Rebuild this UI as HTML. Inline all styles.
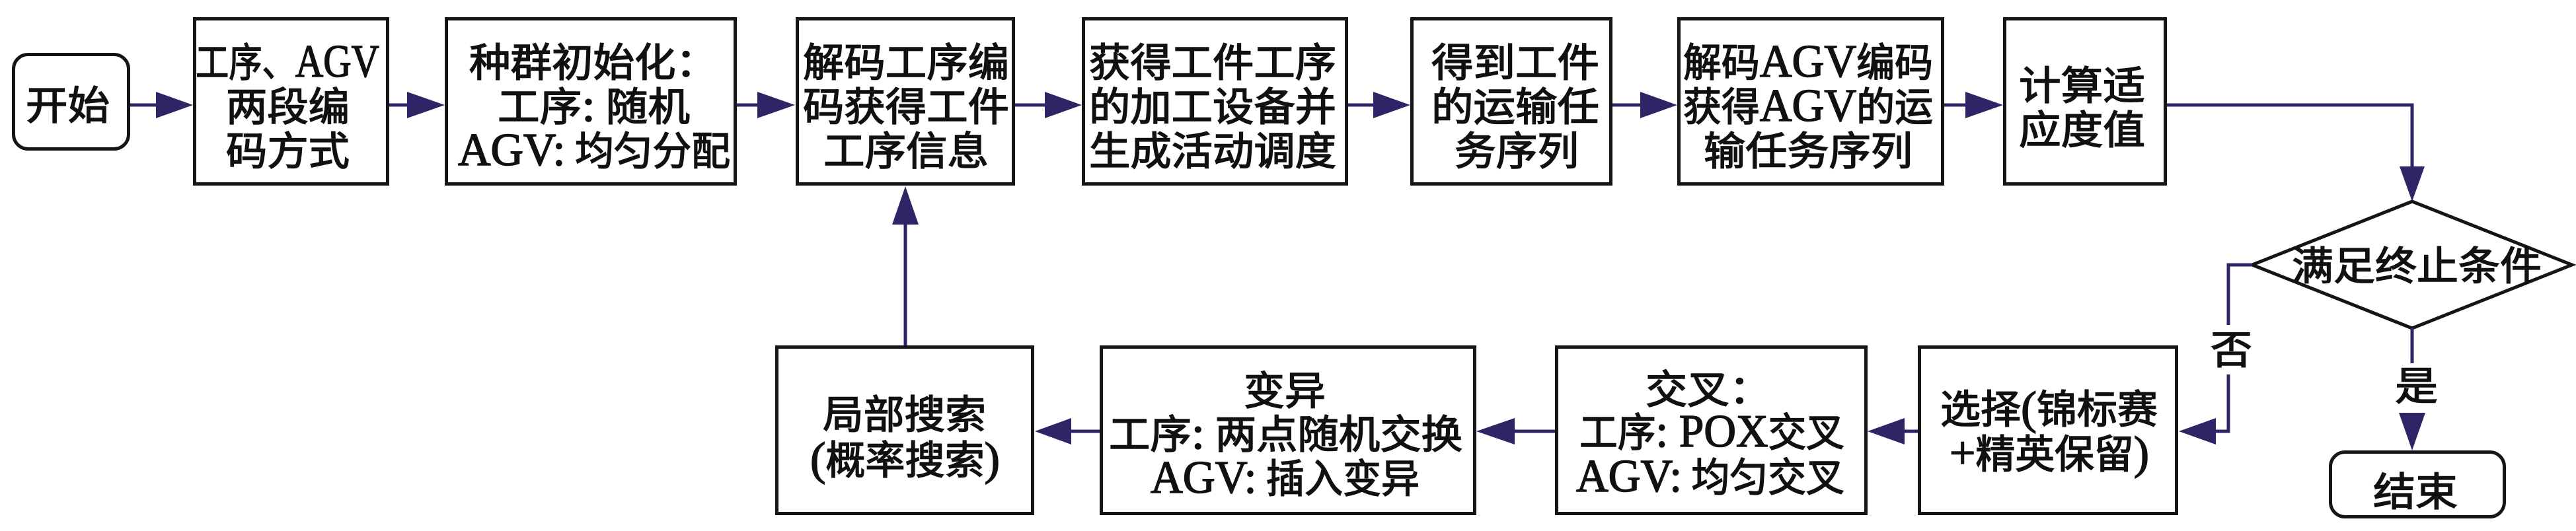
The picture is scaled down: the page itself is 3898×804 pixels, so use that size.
<!DOCTYPE html>
<html>
<head>
<meta charset="utf-8">
<style>
html,body{margin:0;padding:0;background:#fff;}
svg{display:block;}
text{font-family:"Liberation Serif","Noto Sans CJK SC",serif;font-size:60px;font-weight:400;fill:#111;stroke:#111;stroke-width:1.6;}
.L{font-size:70px;}
.b{fill:none;stroke:#151515;stroke-width:5;}
.c{fill:none;stroke:#2d2566;stroke-width:5;}
.h{fill:#2d2566;stroke:none;}
</style>
</head>
<body>
<svg width="3898" height="804" viewBox="0 0 3898 804" xmlns="http://www.w3.org/2000/svg">
<rect x="0" y="0" width="3898" height="804" fill="#fff"/>

<!-- top row boxes -->
<rect class="b" x="20.5" y="82.5" width="174" height="143" rx="22"/>
<rect class="b" x="294.5" y="28.5" width="292" height="250"/>
<rect class="b" x="675.5" y="28.5" width="437" height="250"/>
<rect class="b" x="1206.5" y="28.5" width="327" height="250"/>
<rect class="b" x="1639.5" y="28.5" width="398" height="250"/>
<rect class="b" x="2136.5" y="28.5" width="301" height="250"/>
<rect class="b" x="2540.5" y="28.5" width="399" height="250"/>
<rect class="b" x="3033.5" y="28.5" width="243" height="250"/>

<!-- bottom row boxes -->
<rect class="b" x="1175.5" y="525.5" width="387" height="252"/>
<rect class="b" x="1666.5" y="525.5" width="565" height="252"/>
<rect class="b" x="2355.5" y="525.5" width="468" height="252"/>
<rect class="b" x="2904.5" y="525.5" width="389" height="252"/>
<rect class="b" x="3526.5" y="684.5" width="263" height="98" rx="22"/>

<!-- diamond -->
<polygon class="b" points="3650,305 3892,401 3650,497 3408,401"/>

<!-- connectors top row -->
<path class="c" d="M197,159 H238"/>
<polygon class="h" points="236,139 292,159 236,179"/>
<path class="c" d="M589,159 H618"/>
<polygon class="h" points="616,139 673,159 616,179"/>
<path class="c" d="M1115,159 H1148"/>
<polygon class="h" points="1146,139 1203,159 1146,179"/>
<path class="c" d="M1536,159 H1583"/>
<polygon class="h" points="1581,139 1637,159 1581,179"/>
<path class="c" d="M2040,159 H2080"/>
<polygon class="h" points="2078,139 2134,159 2078,179"/>
<path class="c" d="M2440,159 H2484"/>
<polygon class="h" points="2482,139 2538,159 2482,179"/>
<path class="c" d="M2942,159 H2976"/>
<polygon class="h" points="2974,139 3031,159 2974,179"/>

<!-- to diamond -->
<path class="c" d="M3279,159 H3650 V254"/>
<polygon class="h" points="3631,252 3669,252 3650,305"/>

<!-- no branch -->
<path class="c" d="M3408,401 H3372 V492"/>
<path class="c" d="M3372,567 V653 H3351"/>
<polygon class="h" points="3353,633 3353,673 3297,653"/>

<!-- yes branch -->
<path class="c" d="M3650,497 V550"/>
<polygon class="h" points="3630,625 3670,625 3650,682"/>

<!-- bottom row connectors -->
<path class="c" d="M2902,653 H2880"/>
<polygon class="h" points="2882,633 2882,673 2826,653"/>
<path class="c" d="M2353,653 H2290"/>
<polygon class="h" points="2292,633 2292,673 2234,653"/>
<path class="c" d="M1664,653 H1619"/>
<polygon class="h" points="1621,633 1621,673 1566,653"/>
<path class="c" d="M1370,523 V338"/>
<polygon class="h" points="1350,340 1390,340 1370,282"/>

<!-- texts top -->
<text x="39" y="181" textLength="127" lengthAdjust="spacingAndGlyphs">开始</text>

<text x="296" y="116" textLength="278" lengthAdjust="spacingAndGlyphs">工序、<tspan class="L">AGV</tspan></text>
<text x="342" y="183" textLength="187" lengthAdjust="spacingAndGlyphs">两段编</text>
<text x="342" y="250" textLength="187" lengthAdjust="spacingAndGlyphs">码方式</text>

<text x="710" y="116" textLength="375" lengthAdjust="spacingAndGlyphs">种群初始化：</text>
<text x="753" y="183" textLength="291" lengthAdjust="spacingAndGlyphs">工序<tspan class="L">:</tspan> 随机</text>
<text x="693" y="250" textLength="412" lengthAdjust="spacingAndGlyphs"><tspan class="L">AGV:</tspan> 均匀分配</text>

<text x="1215" y="116" textLength="312" lengthAdjust="spacingAndGlyphs">解码工序编</text>
<text x="1215" y="183" textLength="312" lengthAdjust="spacingAndGlyphs">码获得工件</text>
<text x="1246" y="250" textLength="250" lengthAdjust="spacingAndGlyphs">工序信息</text>

<text x="1648" y="116" textLength="374" lengthAdjust="spacingAndGlyphs">获得工件工序</text>
<text x="1648" y="183" textLength="374" lengthAdjust="spacingAndGlyphs">的加工设备并</text>
<text x="1648" y="250" textLength="374" lengthAdjust="spacingAndGlyphs">生成活动调度</text>

<text x="2166" y="116" textLength="254" lengthAdjust="spacingAndGlyphs">得到工件</text>
<text x="2166" y="183" textLength="254" lengthAdjust="spacingAndGlyphs">的运输任</text>
<text x="2201" y="250" textLength="188" lengthAdjust="spacingAndGlyphs">务序列</text>

<text x="2547" y="116" textLength="378" lengthAdjust="spacingAndGlyphs">解码<tspan class="L">AGV</tspan>编码</text>
<text x="2547" y="183" textLength="378" lengthAdjust="spacingAndGlyphs">获得<tspan class="L">AGV</tspan>的运</text>
<text x="2578" y="250" textLength="316" lengthAdjust="spacingAndGlyphs">输任务序列</text>

<text x="3055" y="151" textLength="191" lengthAdjust="spacingAndGlyphs">计算适</text>
<text x="3055" y="218" textLength="191" lengthAdjust="spacingAndGlyphs">应度值</text>

<!-- diamond & labels -->
<text x="3468" y="424" textLength="378" lengthAdjust="spacingAndGlyphs">满足终止条件</text>
<text x="3345" y="551" textLength="63" lengthAdjust="spacingAndGlyphs">否</text>
<text x="3624" y="606" textLength="65" lengthAdjust="spacingAndGlyphs">是</text>
<text x="3591" y="766" textLength="128" lengthAdjust="spacingAndGlyphs">结束</text>

<!-- texts bottom -->
<text x="1245" y="649" textLength="247" lengthAdjust="spacingAndGlyphs">局部搜索</text>
<text x="1226" y="718" textLength="287" lengthAdjust="spacingAndGlyphs"><tspan class="L">(</tspan>概率搜索<tspan class="L">)</tspan></text>

<text x="1882" y="613" textLength="124" lengthAdjust="spacingAndGlyphs">变异</text>
<text x="1678" y="679" textLength="535" lengthAdjust="spacingAndGlyphs">工序<tspan class="L">:</tspan> 两点随机交换</text>
<text x="1741" y="746" textLength="407" lengthAdjust="spacingAndGlyphs"><tspan class="L">AGV:</tspan> 插入变异</text>

<text x="2490" y="611" textLength="190" lengthAdjust="spacingAndGlyphs">交叉：</text>
<text x="2390" y="676" textLength="401" lengthAdjust="spacingAndGlyphs">工序<tspan class="L">: POX</tspan>交叉</text>
<text x="2385" y="744" textLength="406" lengthAdjust="spacingAndGlyphs"><tspan class="L">AGV:</tspan> 均匀交叉</text>

<text x="2936" y="641" textLength="329" lengthAdjust="spacingAndGlyphs">选择<tspan class="L">(</tspan>锦标赛</text>
<text x="2950" y="709" textLength="302" lengthAdjust="spacingAndGlyphs"><tspan class="L">+</tspan>精英保留<tspan class="L">)</tspan></text>
</svg>
</body>
</html>
